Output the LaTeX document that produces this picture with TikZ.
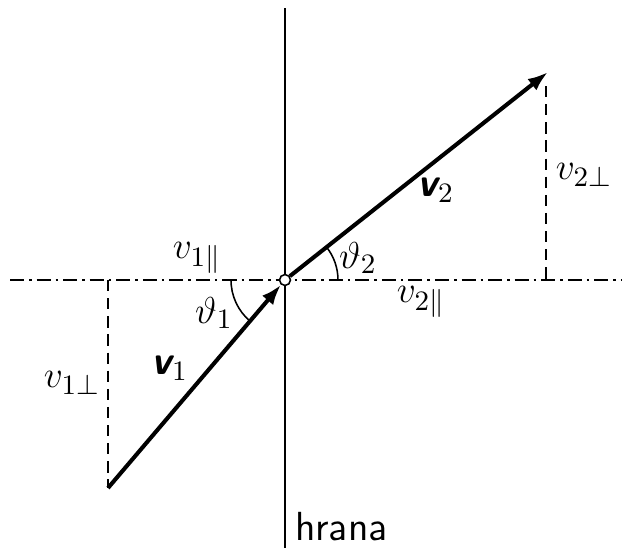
\documentclass[tikz,border=0pt]{standalone}
\usepackage{fontspec}
\usetikzlibrary{arrows.meta,calc}
\newcommand{\vecv}[1]{{\sffamily\bfseries\itshape v}$_{#1}$}

\begin{document}
\begin{tikzpicture}[x=0.32pt,y=-0.32pt,
    every node/.style={font=\fontsize{13}{15}\selectfont},
    thin line/.style={line width=0.5pt},
    vec/.style={line width=1.3pt,-{Latex[length=6.5pt,width=4.6pt]}},
    proj/.style={thin line,dash pattern=on 3.6pt off 2.2pt},
    axis/.style={thin line,dash pattern=on 4.5pt off 1.6pt on 0.8pt off 1.6pt}]
  \useasboundingbox (0,0) rectangle (633,550);
  % points
  \coordinate (O) at (285,280);
  \coordinate (top) at (285,8);
  \coordinate (bot) at (285,548);
  \coordinate (left) at (10,280);
  \coordinate (right) at (622,280);
  \coordinate (A) at (108,488);
  \coordinate (A0) at (108,280);
  \coordinate (B) at (548,72);
  \coordinate (Bd) at (546,86);
  \coordinate (B0) at (546,280);
  % lines
  \draw[thin line] (top) -- (bot);
  \draw[axis] (left) -- (right);
  \draw[proj] (A0) -- (A);
  \draw[proj] (Bd) -- (B0);
  % angles (y axis points down)
  \draw[thin line] ($(O)+(-54,0)$) arc[start angle=180,end angle=130.4,radius=54];
  \draw[thin line] ($(O)+(53,0)$) arc[start angle=0,end angle=-38.3,radius=53];
  % vectors
  \node[circle,draw,thin line,fill=white,inner sep=0pt,minimum size=3.5pt] (o) at (O) {};
  \draw[vec] (A) -- (o);
  \draw[vec] (o) -- (B);
  % labels
  \node[anchor=west] (hrana) at (284,527) {\sffamily hrana};
  \node (v1p) at (197,258) {$v_{1\parallel}$};
  \node (v1k) at (72,383) {$v_{1\perp}$};
  \node (v2p) at (421,302) {$v_{2\parallel}$};
  \node (v2k) at (584,175) {$v_{2\perp}$};
  \node (t1) at (214,313) {$\vartheta_1$};
  \node (t2) at (358,258) {$\vartheta_2$};
  \node (v1) at (170,368) {\vecv{1}};
  \node (v2) at (436,190) {\vecv{2}};
\end{tikzpicture}
\end{document}
